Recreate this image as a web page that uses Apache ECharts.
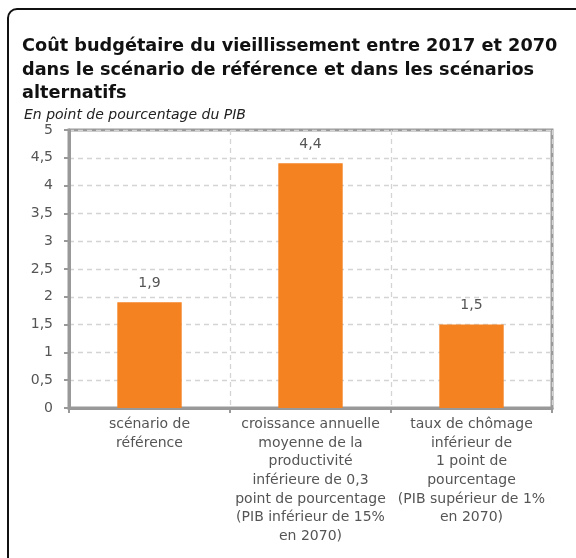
<!DOCTYPE html>
<html><head><meta charset="utf-8">
<script src="https://cdn.jsdelivr.net/npm/echarts@6/dist/echarts.min.js"></script>
<style>
html,body{margin:0;padding:0;background:#fff;}
#frame{position:absolute;left:7px;top:8px;width:600px;height:600px;border:2px solid #111;border-radius:10px 0 0 0;box-sizing:border-box;}
#c{position:absolute;left:0;top:0;width:576px;height:558px;}
</style></head>
<body>
<div id="frame"></div>
<div id="c"></div>
<script>
const categories = [
  "scénario de\nréférence",
  "croissance annuelle\nmoyenne de la\nproductivité\ninférieure de 0,3\npoint de pourcentage\n(PIB inférieur de 15%\nen 2070)",
  "taux de chômage\ninférieur de\n1 point de\npourcentage\n(PIB supérieur de 1%\nen 2070)"
];
const values = [1.9, 4.4, 1.5];
const yTicks = { min: 0, max: 5, interval: 0.5 };
const fmt = v => String(v).replace('.', ',');
const F = "DejaVu Sans";

const chart = echarts.init(document.getElementById('c'));
chart.setOption({
  animation: false,
  title: [{
    text: "Coût budgétaire du vieillissement entre 2017 et 2070\ndans le scénario de référence et dans les scénarios\nalternatifs",
    left: 17, top: 30,
    textStyle: { fontFamily: F, fontWeight: 'bold', fontSize: 17.7, lineHeight: 23.5, color: '#111' }
  }, {
    text: "En point de pourcentage du PIB",
    left: 19, top: 103,
    textStyle: { fontFamily: F, fontStyle: 'italic', fontWeight: 'normal', fontSize: 14, color: '#222' }
  }],
  grid: { left: 69, right: 24, top: 130, bottom: 150, show: true, borderColor: '#999', borderWidth: 3, backgroundColor: 'transparent' },
  xAxis: {
    type: 'category', data: categories,
    axisLine: { lineStyle: { color: '#999', width: 3 } },
    axisTick: { show: true, length: 5, lineStyle: { color: '#999', width: 2 } },
    splitLine: { show: true, lineStyle: { color: '#d4d4d4', type: [5, 4], width: 1.3 } },
    axisLabel: { color: '#555', fontFamily: F, fontSize: 14, lineHeight: 18.7, margin: 7, interval: 0 }
  },
  yAxis: {
    type: 'value', min: yTicks.min, max: yTicks.max, interval: yTicks.interval,
    axisLine: { show: true, lineStyle: { color: '#999', width: 3 } },
    axisTick: { show: true, length: 5, lineStyle: { color: '#999', width: 2 } },
    splitLine: { show: true, lineStyle: { color: '#d4d4d4', type: [5, 4], width: 1.3 } },
    axisLabel: { color: '#555', fontFamily: F, fontSize: 14, margin: 16, formatter: fmt }
  },
  series: [{
    type: 'bar', data: values, barWidth: '40%',
    itemStyle: { color: '#F58220' },
    label: { show: true, position: 'top', distance: 12, color: '#555', fontFamily: F, fontSize: 14, formatter: p => fmt(p.value) }
  }]
});
</script>
</body></html>
